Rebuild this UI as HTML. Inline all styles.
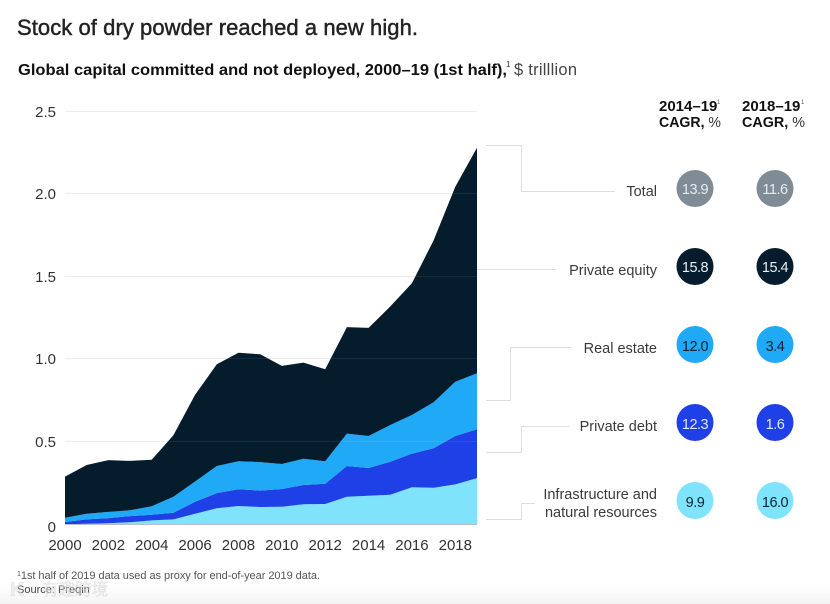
<!DOCTYPE html>
<html lang="en">
<head>
<meta charset="utf-8">
<title>Stock of dry powder reached a new high.</title>
<style>
html,body{margin:0;padding:0;background:#fff;}
body{width:830px;height:604px;overflow:hidden;font-family:"Liberation Sans","Noto Sans CJK SC",sans-serif;}
svg{display:block;}
text{font-family:"Liberation Sans","Noto Sans CJK SC",sans-serif;}
</style>
</head>
<body>
<svg id="chart" xmlns="http://www.w3.org/2000/svg" width="830" height="604" viewBox="0 0 830 604">
  <defs>
    <linearGradient id="fade" x1="0" y1="0" x2="0" y2="1">
      <stop offset="0" stop-color="#f4f4f4" stop-opacity="0"/>
      <stop offset="1" stop-color="#f4f4f4" stop-opacity="1"/>
    </linearGradient>
  </defs>
  <rect width="830" height="604" fill="#fff"/>
  <rect x="0" y="584" width="830" height="20" fill="url(#fade)"/>

  <text x="17" y="35" font-size="22" fill="#222" stroke="#222" stroke-width="0.45" textLength="401" lengthAdjust="spacing">Stock of dry powder reached a new high.</text>
  <text x="18" y="75" font-size="16" font-weight="700" fill="#111" textLength="489" lengthAdjust="spacingAndGlyphs">Global capital committed and not deployed, 2000–19 (1st half),</text>
  <text x="506" y="67" font-size="8" fill="#333">1</text>
  <text x="514" y="75" font-size="16.5" fill="#444" textLength="63" lengthAdjust="spacing">$ trilllion</text>

  <g id="grid"></g>
  <g id="areas"></g>
  <g id="overgrid"></g>
  <g id="yticks"></g>
  <g id="xticks"></g>

  <g fill="none" stroke="#dedede" stroke-width="1">
    <path d="M486 145.5H521.5V191.5H615"/>
    <path d="M477 269.5H556"/>
    <path d="M486 400.5H510.5V347.5H571"/>
    <path d="M486 452.5H521.5V426.5H569"/>
    <path d="M486 519.5H521.5V503.5H535"/>
  </g>

  <g font-size="15">
    <text x="659" y="111" font-weight="700" fill="#111">2014–19</text>
    <text x="717" y="104" font-size="6" fill="#555">1</text>
    <text x="659" y="127" fill="#333" textLength="62" lengthAdjust="spacingAndGlyphs"><tspan font-weight="700" fill="#111">CAGR,</tspan> %</text>
  </g>
  <g font-size="15">
    <text x="742" y="111" font-weight="700" fill="#111">2018–19</text>
    <text x="801" y="104" font-size="6" fill="#555">1</text>
    <text x="742" y="127" fill="#333" textLength="63" lengthAdjust="spacingAndGlyphs"><tspan font-weight="700" fill="#111">CAGR,</tspan> %</text>
  </g>

  <g font-size="14.5" fill="#3a3a3a" text-anchor="end">
    <text x="657" y="196">Total</text>
    <text x="657" y="275">Private equity</text>
    <text x="657" y="353">Real estate</text>
    <text x="657" y="431">Private debt</text>
    <text x="657" y="499">Infrastructure and</text>
    <text x="657" y="517">natural resources</text>
  </g>

  <g font-size="14.5" letter-spacing="-0.5" text-anchor="middle">
    <g>
      <circle cx="695" cy="188.5" r="18.5" fill="#7f8c96"/>
      <text x="695" y="194" fill="#e8ebee">13.9</text>
      <circle cx="775" cy="188.5" r="18.5" fill="#7f8c96"/>
      <text x="775" y="194" fill="#e8ebee">11.6</text>
    </g>
    <g>
      <circle cx="695" cy="266.5" r="18.5" fill="#051c2c"/>
      <text x="695" y="272" fill="#e8f0f5">15.8</text>
      <circle cx="775" cy="266.5" r="18.5" fill="#051c2c"/>
      <text x="775" y="272" fill="#e8f0f5">15.4</text>
    </g>
    <g>
      <circle cx="695" cy="344.5" r="18.5" fill="#1fa9f6"/>
      <text x="695" y="351" fill="#0a2233">12.0</text>
      <circle cx="775" cy="344.5" r="18.5" fill="#1fa9f6"/>
      <text x="775" y="351" fill="#0a2233">3.4</text>
    </g>
    <g>
      <circle cx="695" cy="422.5" r="18.5" fill="#1f40e6"/>
      <text x="695" y="429" fill="#dfe6ff">12.3</text>
      <circle cx="775" cy="422.5" r="18.5" fill="#1f40e6"/>
      <text x="775" y="429" fill="#dfe6ff">1.6</text>
    </g>
    <g>
      <circle cx="695" cy="500.5" r="18.5" fill="#7fe4fb"/>
      <text x="695" y="507" fill="#0a2233">9.9</text>
      <circle cx="775" cy="500.5" r="18.5" fill="#7fe4fb"/>
      <text x="775" y="507" fill="#0a2233">16.0</text>
    </g>
  </g>

  <text x="17" y="579" font-size="11" fill="#555" textLength="303" lengthAdjust="spacing"><tspan font-size="7" dy="-3">1</tspan><tspan dy="3">1st half of 2019 data used as proxy for end-of-year 2019 data.</tspan></text>
  <text x="17" y="593" font-size="11" fill="#444">Source: Preqin</text>
  <g fill="#e4e4e4" stroke="#bcbcbc" stroke-width="0.3" opacity="0.6">
    <text x="10" y="596" font-size="20" font-weight="700">K</text>
    <text x="42" y="595" font-size="16.5">有趣跨境</text>
  </g>
</svg>
<script>
var years = [2000,2001,2002,2003,2004,2005,2006,2007,2008,2009,2010,2011,2012,2013,2014,2015,2016,2017,2018,2019];
var infrastructure = [0.002,0.004,0.007,0.014,0.025,0.031,0.065,0.098,0.112,0.106,0.108,0.122,0.124,0.168,0.174,0.180,0.225,0.223,0.243,0.281];
var privateDebt = [0.013,0.027,0.032,0.037,0.034,0.040,0.073,0.092,0.101,0.099,0.107,0.117,0.123,0.186,0.168,0.200,0.204,0.238,0.293,0.295];
var realEstate = [0.026,0.034,0.037,0.035,0.051,0.097,0.122,0.164,0.170,0.173,0.151,0.159,0.136,0.196,0.194,0.222,0.234,0.279,0.328,0.339];
var privateEquity = [0.249,0.295,0.314,0.299,0.282,0.372,0.525,0.616,0.657,0.652,0.594,0.582,0.557,0.645,0.654,0.718,0.797,0.980,1.181,1.365];
var yTickValues = [0,0.5,1,1.5,2,2.5];
var yTickLabels = ["0","0.5","1.0","1.5","2.0","2.5"];
var xTickLabels = ["2000","2002","2004","2006","2008","2010","2012","2014","2016","2018"];

var NS = "http://www.w3.org/2000/svg";
function xScale(year){ return 65 + (year - 2000) * (412 / 19); }
function yScale(v){ return 524.5 - v * 165.2; }
function gridY(v){ return Math.floor(yScale(v) - 0.5) + 0.5; }

var layers = [
  {name:"area-infrastructure", values:infrastructure, color:"#7fe4fb"},
  {name:"area-private-debt", values:privateDebt, color:"#1f40e6"},
  {name:"area-real-estate", values:realEstate, color:"#1fa9f6"},
  {name:"area-private-equity", values:privateEquity, color:"#051c2c"}
];

var gridG = document.getElementById("grid");
var overG = document.getElementById("overgrid");
var yG = document.getElementById("yticks");
var xG = document.getElementById("xticks");
var areasG = document.getElementById("areas");

yTickValues.forEach(function(v, i){
  var y = gridY(v);
  var line = document.createElementNS(NS, "line");
  
  
  line.setAttribute("x1", 65);
  line.setAttribute("x2", 477);
  line.setAttribute("y1", y);
  line.setAttribute("y2", y);
  line.setAttribute("stroke", "#ececec");
  gridG.appendChild(line);

  var t = document.createElementNS(NS, "text");
  
  
  t.setAttribute("x", 56);
  t.setAttribute("y", y + (v === 0 ? 7.5 : 5.3));
  t.setAttribute("text-anchor", "end");
  t.setAttribute("font-size", "15");
  t.setAttribute("fill", "#333");
  t.textContent = yTickLabels[i];
  yG.appendChild(t);
});

var base = years.map(function(){ return 0; });
layers.forEach(function(layer){
  var top = base.map(function(b, i){ return b + layer.values[i]; });
  var pts = [];
  years.forEach(function(yr, i){ pts.push(xScale(yr).toFixed(1) + "," + yScale(top[i]).toFixed(1)); });
  for (var i = years.length - 1; i >= 0; i--) {
    pts.push(xScale(years[i]).toFixed(1) + "," + yScale(base[i]).toFixed(1));
  }
  var poly = document.createElementNS(NS, "polygon");
  
  
  poly.setAttribute("points", pts.join(" "));
  poly.setAttribute("fill", layer.color);
  areasG.appendChild(poly);
  base = top;
});

yTickValues.forEach(function(v){
  var y = gridY(v);
  var over = document.createElementNS(NS, "line");
  
  
  over.setAttribute("x1", 65);
  over.setAttribute("x2", 477);
  over.setAttribute("y1", y);
  over.setAttribute("y2", y);
  over.setAttribute("stroke", v === 0 ? "#b4c0c8" : "rgba(255,255,255,0.07)");
  overG.appendChild(over);
});

xTickLabels.forEach(function(label){
  var t = document.createElementNS(NS, "text");
  
  
  t.setAttribute("x", xScale(Number(label)));
  t.setAttribute("y", 550);
  t.setAttribute("text-anchor", "middle");
  t.setAttribute("font-size", "15");
  t.setAttribute("fill", "#333");
  t.textContent = label;
  xG.appendChild(t);
});
</script>
</body>
</html>
